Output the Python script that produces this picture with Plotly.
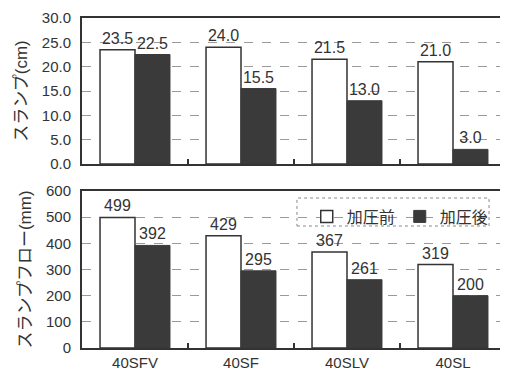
import plotly.graph_objects as go

categories = ["40SFV", "40SF", "40SLV", "40SL"]
slump_before = [23.5, 24.0, 21.5, 21.0]
slump_after = [22.5, 15.5, 13.0, 3.0]
flow_before = [499, 429, 367, 319]
flow_after = [392, 295, 261, 200]
series_names = ["加圧前", "加圧後"]

INK = "#333333"
DARK = "#3a3a3a"
FONT = "Liberation Sans, Noto Sans CJK JP, sans-serif"

fig = go.Figure()

# top panel: slump
fig.add_trace(go.Bar(x=categories, y=slump_before, name=series_names[0],
                     marker=dict(color="white", line=dict(color=INK, width=1.5)),
                     texttemplate="%{y:.1f}", textposition="outside",
                     textfont=dict(size=16, color=INK), cliponaxis=False,
                     xaxis="x", yaxis="y", showlegend=False))
fig.add_trace(go.Bar(x=categories, y=slump_after, name=series_names[1],
                     marker=dict(color=DARK, line=dict(color=DARK, width=1)),
                     texttemplate="%{y:.1f}", textposition="outside",
                     textfont=dict(size=16, color=INK), cliponaxis=False,
                     xaxis="x", yaxis="y", showlegend=False))
# bottom panel: slump flow
fig.add_trace(go.Bar(x=categories, y=flow_before, name=series_names[0],
                     marker=dict(color="white", line=dict(color=INK, width=1.5)),
                     texttemplate="%{y:d}", textposition="outside",
                     textfont=dict(size=16, color=INK), cliponaxis=False,
                     xaxis="x2", yaxis="y2"))
fig.add_trace(go.Bar(x=categories, y=flow_after, name=series_names[1],
                     marker=dict(color=DARK, line=dict(color=DARK, width=1)),
                     texttemplate="%{y:d}", textposition="outside",
                     textfont=dict(size=16, color=INK), cliponaxis=False,
                     xaxis="x2", yaxis="y2"))

yaxis_common = dict(showline=True, linewidth=2, linecolor=INK, mirror=True,
                    showgrid=True, gridcolor="#9a9a9a", griddash="dash",
                    gridwidth=1, zeroline=False, ticks="", ticklabelstandoff=6,
                    automargin=False, ticklabeloverflow="allow",
                    tickfont=dict(size=15, color=INK, family=FONT),
                    title_font=dict(size=17, color=INK, family=FONT), title_standoff=10)

# page body has an 8px margin, so the figure is 8px smaller and margins shifted
fig.update_layout(
    width=500, height=376,
    margin=dict(l=74, r=2, t=10, b=36, autoexpand=False),
    paper_bgcolor="white", plot_bgcolor="white",
    font=dict(family=FONT, color=INK),
    barmode="group", bargap=0.34, bargroupgap=0,
    xaxis=dict(showline=True, linewidth=2, linecolor=INK, mirror=True,
               showgrid=False, ticks="inside", ticklen=5, tickwidth=2,
               tickcolor=INK, tickson="boundaries", domain=[0, 1], anchor="y",
               automargin=False, tickmode="array", tickvals=categories,
               ticktext=["" for _ in categories], showticklabels=False),
    yaxis=dict(yaxis_common, domain=[0.5576, 1], range=[0, 30], dtick=5, tickformat=".1f",
               title_text="スランプ(cm)"),
    xaxis2=dict(showline=True, linewidth=2, linecolor=INK, mirror=True,
                showgrid=False, ticks="inside", ticklen=5, tickwidth=2,
                tickcolor=INK, tickson="boundaries", domain=[0, 1], anchor="y2",
                automargin=False, showticklabels=True, ticklabelstandoff=0,
                ticklabeloverflow="allow",
                tickfont=dict(size=15, color=INK, family=FONT)),
    yaxis2=dict(yaxis_common, domain=[0, 0.4758], range=[0, 600], dtick=100,
                title_text="スランプフロー(mm)"),
    legend=dict(orientation="h", x=0.53, y=0.45, xanchor="left", yanchor="top",
                bgcolor="rgba(0,0,0,0)", font=dict(size=16, color=INK, family=FONT),
                itemwidth=30, tracegroupgap=0),
    shapes=[dict(type="rect", xref="paper", yref="paper", x0=0.507, x1=0.96,
                 y0=0.3697, y1=0.4545, line=dict(color="#888888", width=1, dash="dot"))],
)

fig.write_html("out.html")
